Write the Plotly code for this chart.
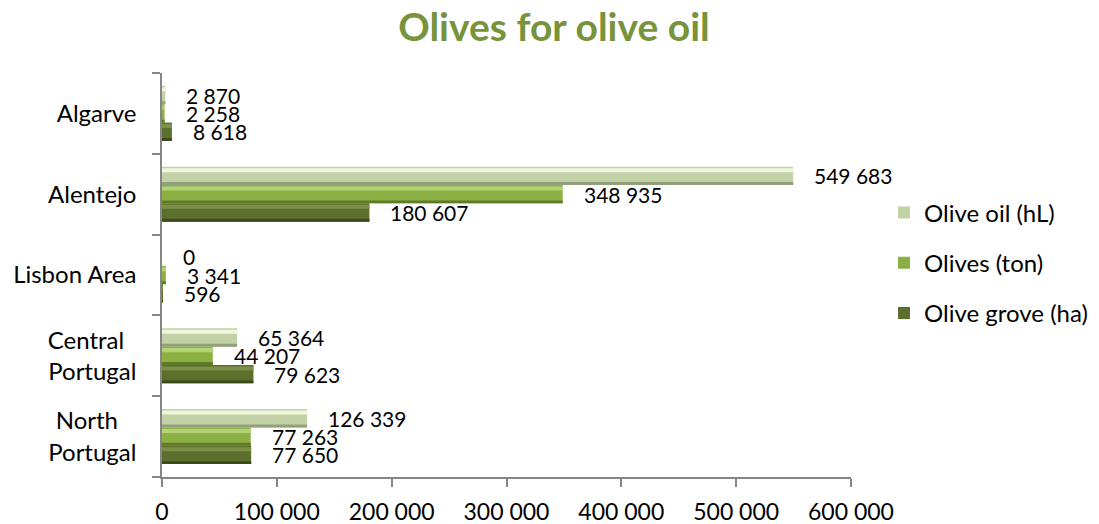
import plotly.graph_objects as go

# Regions, bottom to top
regions = ["North Portugal", "Central Portugal", "Lisbon Area", "Alentejo", "Algarve"]
NB = "\u00a0"
region_ticktext = ["North" + NB * 3 + "<br>Portugal", "Central" + NB * 2 + "<br>Portugal",
                   "Lisbon Area", "Alentejo", "Algarve"]

olive_grove_ha = [77650, 79623, 596, 180607, 8618]
olives_ton = [77263, 44207, 3341, 348935, 2258]
olive_oil_hl = [126339, 65364, 0, 549683, 2870]

x_tickvals = [0, 100000, 200000, 300000, 400000, 500000, 600000]
x_ticktext = ["0", "100 000", "200 000", "300 000", "400 000", "500 000", "600 000"]

FONT = "Lato"
BAR_H = 0.227          # bar thickness in category units
PX_PER_CAT = 404 / 5   # plot height / number of categories

# series in legend order: name, values, base colour, highlight, shade,
# slot within the group (0 = bottom)
series = [
    ("Olive oil (hL)", olive_oil_hl, "#c3d1a6", "#eef6dc", "#93a07c", 2),
    ("Olives (ton)", olives_ton, "#8cb043", "#b3d476", "#5e7b27", 1),
    ("Olive grove (ha)", olive_grove_ha, "#5c6f2d", "#7b8f47", "#3c4a1a", 0),
]


def fmt(v):
    return f"{v:,}".replace(",", " ")


fig = go.Figure()
annotations = []
for name, vals, base, hi, shade, slot in series:
    off = -1.5 * BAR_H + slot * BAR_H
    common = dict(y=regions, x=vals, orientation="h", legendgroup=name, hoverinfo="skip")
    # main body of the bar
    fig.add_trace(go.Bar(name=name, marker=dict(color=base, line=dict(width=0)),
                         offset=off, width=BAR_H, showlegend=True, **common))
    # bevel: light top strip and darker bottom strip
    fig.add_trace(go.Bar(name=name, marker=dict(color=hi, line=dict(width=0)),
                         offset=off + BAR_H * 0.70, width=BAR_H * 0.22,
                         showlegend=False, **common))
    fig.add_trace(go.Bar(name=name, marker=dict(color=shade, line=dict(width=0)),
                         offset=off, width=BAR_H * 0.16,
                         showlegend=False, **common))
    centre = off + BAR_H / 2
    for reg, v in zip(regions, vals):
        annotations.append(dict(
            x=v, y=reg, xref="x", yref="y", text=fmt(v), showarrow=False,
            xanchor="left", yanchor="middle", xshift=19, yshift=centre * PX_PER_CAT,
            font=dict(family=FONT, size=21, color="#000000"),
        ))

fig.update_layout(
    barmode="overlay",
    width=1099, height=524,
    margin=dict(l=162, r=248, t=73, b=47, autoexpand=False),
    paper_bgcolor="white", plot_bgcolor="white",
    font=dict(family=FONT, color="#000000"),
    title=dict(text="<b>Olives for olive oil</b>", x=554 / 1099, xanchor="center",
               y=1 - 27 / 524, yanchor="middle",
               font=dict(family=FONT, size=39, color="#77933c")),
    xaxis=dict(range=[0, 600000], tickvals=x_tickvals, ticktext=x_ticktext,
               automargin=False,
               showgrid=False, zeroline=False, showline=True, linecolor="#868686",
               linewidth=1.5, ticks="outside", ticklen=8, tickcolor="#868686",
               tickwidth=1.5, ticklabelstandoff=6,
               tickfont=dict(family=FONT, size=23, color="#000000")),
    yaxis=dict(type="category", categoryorder="array", categoryarray=regions,
               tickvals=regions, ticktext=region_ticktext, range=[-0.5, 4.5],
               automargin=False,
               showgrid=False, zeroline=False, showline=True, linecolor="#868686",
               linewidth=1.5, ticks="outside", tickson="boundaries", ticklen=8,
               tickcolor="#868686", tickwidth=1.5, ticklabelstandoff=19,
               tickfont=dict(family=FONT, size=24, color="#000000")),
    legend=dict(x=(884 - 162) / 689, xanchor="left", y=(477 - 263) / 404, yanchor="middle",
                traceorder="grouped", tracegroupgap=16,
                font=dict(family=FONT, size=24, color="#000000"),
                bgcolor="rgba(0,0,0,0)"),
    annotations=annotations,
)

fig.write_html("out.html")
